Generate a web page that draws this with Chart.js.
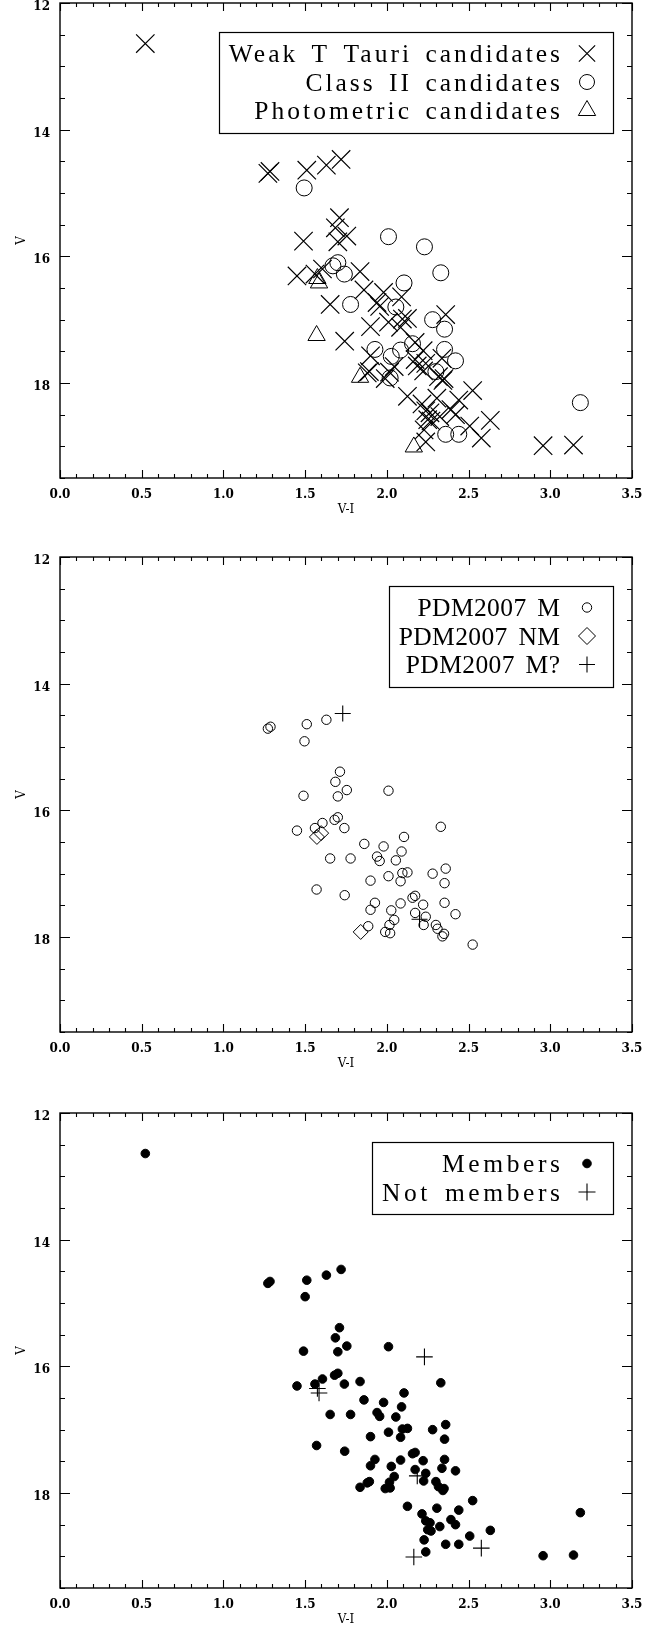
<!DOCTYPE html>
<html>
<head>
<meta charset="utf-8">
<script src="https://cdn.jsdelivr.net/npm/chart.js@4/dist/chart.umd.min.js"></script>
<style>
  html, body { margin: 0; padding: 0; background: #fff; }
  .panel { position: absolute; left: 0; width: 669px; }
</style>
</head>
<body>
<div class="panel" style="top:0px"><canvas id="c1" width="669" height="554"></canvas></div>
<div class="panel" style="top:554px"><canvas id="c2" width="669" height="556"></canvas></div>
<div class="panel" style="top:1110px"><canvas id="c3" width="669" height="517"></canvas></div>
<script>
// axis ticks
const xTickLabels = [0, 0.5, 1, 1.5, 2, 2.5, 3, 3.5];
const yTickLabels = [12, 14, 16, 18];
const xMinorStep = 0.1;
const yMinorStep = 0.5;

// ---- panel 1 : candidates (V-I, V)
const weakTTauri = [
  [0.522, 12.64], [1.272, 14.69], [1.285, 14.66], [1.51, 14.64], [1.63, 14.56], [1.72, 14.47],
  [1.71, 15.39], [1.685, 15.55], [1.755, 15.68], [1.49, 15.76], [1.70, 15.77], [1.606, 16.20],
  [1.56, 16.28], [1.45, 16.31], [1.836, 16.24], [1.86, 16.53], [1.98, 16.57], [2.09, 16.64],
  [1.94, 16.73], [1.956, 16.79], [1.653, 16.76], [2.36, 16.92], [2.095, 16.99], [2.126, 16.98],
  [2.01, 17.04], [1.90, 17.11], [2.084, 17.12], [1.742, 17.34], [2.173, 17.36], [2.222, 17.49],
  [1.90, 17.57], [2.337, 17.61], [2.173, 17.63], [2.238, 17.69], [2.045, 17.74], [2.225, 17.81],
  [2.316, 17.90], [2.343, 17.96], [2.35, 17.93], [1.893, 17.82], [1.88, 17.84], [2.016, 17.83],
  [1.99, 17.93], [2.525, 18.12], [2.126, 18.21], [2.306, 18.24], [2.44, 18.27], [2.215, 18.33],
  [2.238, 18.44], [2.264, 18.47], [2.392, 18.42], [2.324, 18.53], [2.42, 18.50], [2.25, 18.58],
  [2.27, 18.60], [2.633, 18.59], [2.507, 18.68], [2.228, 18.74], [2.238, 18.93], [2.956, 18.99],
  [3.142, 18.98], [2.186, 17.73], [2.578, 18.87]
];
const classII = [
  [1.494, 14.92], [2.01, 15.69], [2.23, 15.85], [1.70, 16.10], [1.67, 16.15], [1.74, 16.28],
  [2.33, 16.26], [2.105, 16.42], [1.778, 16.76], [2.055, 16.80], [2.28, 17.00], [2.353, 17.15],
  [2.157, 17.38], [2.353, 17.47], [1.927, 17.47], [2.084, 17.48], [2.027, 17.58], [2.42, 17.65],
  [2.30, 17.82], [2.02, 17.92], [3.184, 18.31], [2.36, 18.81], [2.44, 18.81]
];
const photometric = [
  [1.575, 16.35], [1.585, 16.42], [1.57, 17.25], [1.836, 17.91], [2.165, 19.01]
];

// ---- panel 2 : PDM2007 classification
const pdmM = [
  [1.272, 14.71], [1.288, 14.68], [1.51, 14.64], [1.63, 14.57], [1.496, 14.91], [1.713, 15.39],
  [1.685, 15.55], [1.755, 15.68], [1.49, 15.77], [1.70, 15.78], [2.01, 15.69], [1.68, 16.15],
  [1.70, 16.11], [1.606, 16.20], [1.56, 16.28], [1.45, 16.32], [1.74, 16.28], [2.33, 16.26],
  [2.105, 16.42], [1.862, 16.53], [1.98, 16.57], [2.09, 16.65], [1.94, 16.73], [1.956, 16.80],
  [1.653, 16.76], [1.778, 16.76], [2.055, 16.79], [2.36, 16.92], [2.095, 16.99], [2.126, 16.98],
  [2.28, 17.00], [2.01, 17.04], [1.90, 17.11], [2.084, 17.12], [2.353, 17.15], [1.57, 17.25],
  [1.742, 17.34], [2.157, 17.38], [2.173, 17.35], [2.353, 17.46], [1.927, 17.46], [2.084, 17.47],
  [2.222, 17.49], [1.90, 17.57], [2.027, 17.58], [2.173, 17.62], [2.42, 17.64], [2.238, 17.68],
  [2.045, 17.73], [2.225, 17.81], [2.30, 17.81], [2.31, 17.87], [2.34, 17.99], [2.35, 17.95],
  [1.886, 17.83], [2.016, 17.81], [1.99, 17.92], [2.02, 17.94], [2.525, 18.12]
];
const pdmNM = [[1.572, 16.42], [1.598, 16.36], [1.84, 17.92]];
const pdmMq = [[1.73, 14.47], [2.20, 17.72]];

// ---- panel 3 : membership
const members = [
  [0.522, 12.64], [1.272, 14.69], [1.285, 14.66], [1.51, 14.64], [1.63, 14.56], [1.72, 14.47],
  [1.50, 14.90], [1.71, 15.39], [1.685, 15.55], [1.755, 15.68], [1.49, 15.76], [1.70, 15.77],
  [2.01, 15.69], [1.68, 16.14], [1.70, 16.11], [1.606, 16.20], [1.56, 16.28], [1.45, 16.31],
  [1.74, 16.28], [1.836, 16.24], [2.33, 16.26], [2.105, 16.42], [1.86, 16.53], [1.98, 16.57],
  [2.09, 16.64], [1.94, 16.73], [1.956, 16.79], [1.653, 16.76], [1.778, 16.76], [2.055, 16.80],
  [2.36, 16.92], [2.095, 16.99], [2.126, 16.98], [2.28, 17.00], [2.01, 17.04], [1.90, 17.11],
  [2.084, 17.12], [2.353, 17.15], [1.57, 17.25], [1.742, 17.34], [2.157, 17.38], [2.173, 17.36],
  [2.353, 17.47], [1.927, 17.47], [2.084, 17.48], [2.222, 17.49], [1.90, 17.57], [2.027, 17.58],
  [2.337, 17.61], [2.173, 17.63], [2.42, 17.65], [2.238, 17.69], [2.045, 17.74], [2.225, 17.81],
  [2.30, 17.82], [2.316, 17.90], [2.343, 17.96], [2.35, 17.93], [1.893, 17.82], [1.88, 17.84],
  [2.016, 17.83], [1.836, 17.91], [1.99, 17.93], [2.02, 17.92], [2.525, 18.12], [2.126, 18.21],
  [2.306, 18.24], [2.44, 18.27], [2.215, 18.33], [2.238, 18.44], [2.264, 18.47], [2.392, 18.42],
  [3.184, 18.31], [2.324, 18.53], [2.42, 18.50], [2.25, 18.58], [2.27, 18.60], [2.633, 18.59],
  [2.507, 18.68], [2.228, 18.74], [2.36, 18.81], [2.44, 18.81], [2.238, 18.93], [2.956, 18.99],
  [3.142, 18.98]
];
const nonMembers = [
  [2.23, 15.85], [1.575, 16.35], [1.585, 16.42], [2.186, 17.73], [2.165, 19.01], [2.578, 18.87]
];

const pts = (arr) => arr.map((p) => ({ x: p[0], y: p[1] }));
const INK = "#000";
const AREA_TOP = 3, AREA_H = 475, AREA_LEFT = 60, AREA_RIGHT = 632, X_AXIS_H = 39;

// IDL-style frame: box, inward ticks on all four sides, boxed legend with symbol on the right
const idlFrame = {
  id: "idlFrame",
  afterDraw(chart, args, opts) {
    const { ctx, chartArea: a, scales } = chart;
    const sx = scales.x, sy = scales.y;
    ctx.save();
    ctx.strokeStyle = INK;
    ctx.lineWidth = 1.4;
    ctx.strokeRect(a.left, a.top, a.right - a.left, a.bottom - a.top);

    ctx.lineWidth = 1.1;
    ctx.beginPath();
    for (let i = 0; i <= 35; i++) {
      const v = i * xMinorStep;
      const px = Math.round(sx.getPixelForValue(v)) + 0.5;
      const len = i % 5 === 0 ? 8 : 4;
      ctx.moveTo(px, a.bottom); ctx.lineTo(px, a.bottom - len);
      ctx.moveTo(px, a.top); ctx.lineTo(px, a.top + len);
    }
    for (let i = 0; i <= 15; i++) {
      const v = 12 + i * yMinorStep;
      const py = Math.round(sy.getPixelForValue(v)) + 0.5;
      const len = yTickLabels.includes(v) ? 10 : 5;
      ctx.moveTo(a.left, py); ctx.lineTo(a.left + len, py);
      ctx.moveTo(a.right, py); ctx.lineTo(a.right - len, py);
    }
    ctx.stroke();

    // legend
    const ds = chart.data.datasets;
    const rowH = 28.5;
    const boxTop = a.top + 29;
    const boxRight = a.right - 19;
    const textRight = a.right - 72;
    const symX = a.right - 45;
    const ls = opts.letterSpacing;
    ctx.font = '25.5px "Liberation Serif"';
    ctx.letterSpacing = ls + "px";
    ctx.wordSpacing = "4px";
    ctx.fillStyle = INK;
    ctx.textBaseline = "alphabetic";
    ctx.textAlign = "left";
    let minLeft = textRight;
    ds.forEach((d, i) => {
      const w = ctx.measureText(d.label).width;
      const x = textRight - w + ls;
      minLeft = Math.min(minLeft, x);
      const base = boxTop + 30 + rowH * i;
      ctx.fillText(d.label, x, base);
      ctx.strokeStyle = INK;
      ctx.fillStyle = d.backgroundColor;
      ctx.lineWidth = d.borderWidth;
      Chart.helpers.drawPoint(ctx, {
        pointStyle: d.pointStyle,
        radius: d.legendRadius || d.pointRadius,
        rotation: 0,
        borderWidth: d.borderWidth
      }, symX, base - 8.5);
      ctx.fillStyle = INK;
    });
    ctx.letterSpacing = "0px";
    ctx.wordSpacing = "0px";
    const boxLeft = minLeft - 9.5;
    const boxBottom = boxTop + rowH * ds.length + 15;
    ctx.strokeStyle = INK;
    ctx.lineWidth = 1.2;
    ctx.strokeRect(Math.round(boxLeft) + 0.5, Math.round(boxTop) + 0.5,
      Math.round(boxRight - boxLeft), Math.round(boxBottom - boxTop));
    ctx.restore();
  }
};

function makePanel(id, datasets, legendSpacing) {
  const canvas = document.getElementById(id);
  const h = canvas.height;
  const tickFont = { family: "DejaVu Serif", size: 12, weight: "bold" };
  const chart = new Chart(canvas, {
    type: "scatter",
    data: { datasets },
    options: {
      responsive: false,
      animation: false,
      events: [],
      layout: {
        autoPadding: false,
        padding: { top: AREA_TOP, left: 0, right: 669 - AREA_RIGHT, bottom: h - AREA_TOP - AREA_H - X_AXIS_H }
      },
      plugins: {
        legend: { display: false },
        tooltip: { enabled: false },
        idlFrame: { letterSpacing: legendSpacing }
      },
      scales: {
        x: {
          type: "linear", min: 0, max: 3.5,
          grid: { display: false, drawTicks: false },
          border: { display: false },
          afterBuildTicks: (s) => { s.ticks = xTickLabels.map((v) => ({ value: v })); },
          afterFit: (s) => {
            s.height = X_AXIS_H;
            s.paddingLeft = 0; s.paddingRight = 0; s.paddingTop = 0; s.paddingBottom = 0;
          },
          ticks: {
            color: INK, font: tickFont, padding: 10, maxRotation: 0, autoSkip: false,
            callback: (v) => Number(v).toFixed(1)
          },
          title: { display: true, text: "V-I", color: INK, padding: 0,
                   font: { family: "DejaVu Serif", size: 12, lineHeight: 1.2 } }
        },
        y: {
          type: "linear", min: 12, max: 19.5, reverse: true,
          grid: { display: false, drawTicks: false },
          border: { display: false },
          afterBuildTicks: (s) => { s.ticks = yTickLabels.map((v) => ({ value: v })); },
          afterFit: (s) => {
            s.width = AREA_LEFT;
            s.paddingLeft = 0; s.paddingRight = 0; s.paddingTop = 0; s.paddingBottom = 0;
          },
          ticks: { color: INK, font: tickFont, padding: 10, labelOffset: 4, callback: (v) => String(v) },
          title: { display: true, text: "V", color: INK, padding: { top: 3, bottom: 0 },
                   font: { family: "DejaVu Serif", size: 12, lineHeight: 3.2 } }
        }
      }
    },
    plugins: [idlFrame]
  });
  // pin the plot area to the reference frame
  const p = chart.options.layout.padding;
  for (let k = 0; k < 4; k++) {
    const a = chart.chartArea;
    const dt = a.top - AREA_TOP, db = a.bottom - (AREA_TOP + AREA_H);
    if (Math.abs(dt) < 0.5 && Math.abs(db) < 0.5) break;
    p.top -= dt;
    p.bottom += db;
    chart.update();
  }
  return chart;
}

const series = (label, data, style, radius, width, fill, legendRadius) => ({
  label,
  data: pts(data),
  pointStyle: style,
  pointRadius: radius,
  legendRadius,
  borderColor: INK,
  backgroundColor: fill ? INK : "rgba(0,0,0,0)",
  borderWidth: width,
  showLine: false
});

makePanel("c1", [
  series("Weak T Tauri candidates", weakTTauri, "crossRot", 13, 1.2, false, 11.5),
  series("Class II candidates", classII, "circle", 8, 1, false, 7.5),
  series("Photometric candidates", photometric, "triangle", 10, 1, false, 10)
], 3.0);

makePanel("c2", [
  series("PDM2007 M", pdmM, "circle", 4.7, 1, false, 4.7),
  series("PDM2007 NM", pdmNM, "rectRot", 7.5, 1, false, 8.5),
  series("PDM2007 M?", pdmMq, "cross", 8, 1.1, false, 8)
], 0.4);

makePanel("c3", [
  series("Members", members, "circle", 4.3, 1, true, 4.3),
  series("Not members", nonMembers, "cross", 8.3, 1.1, false, 8.5)
], 3.6);
</script>
</body>
</html>
